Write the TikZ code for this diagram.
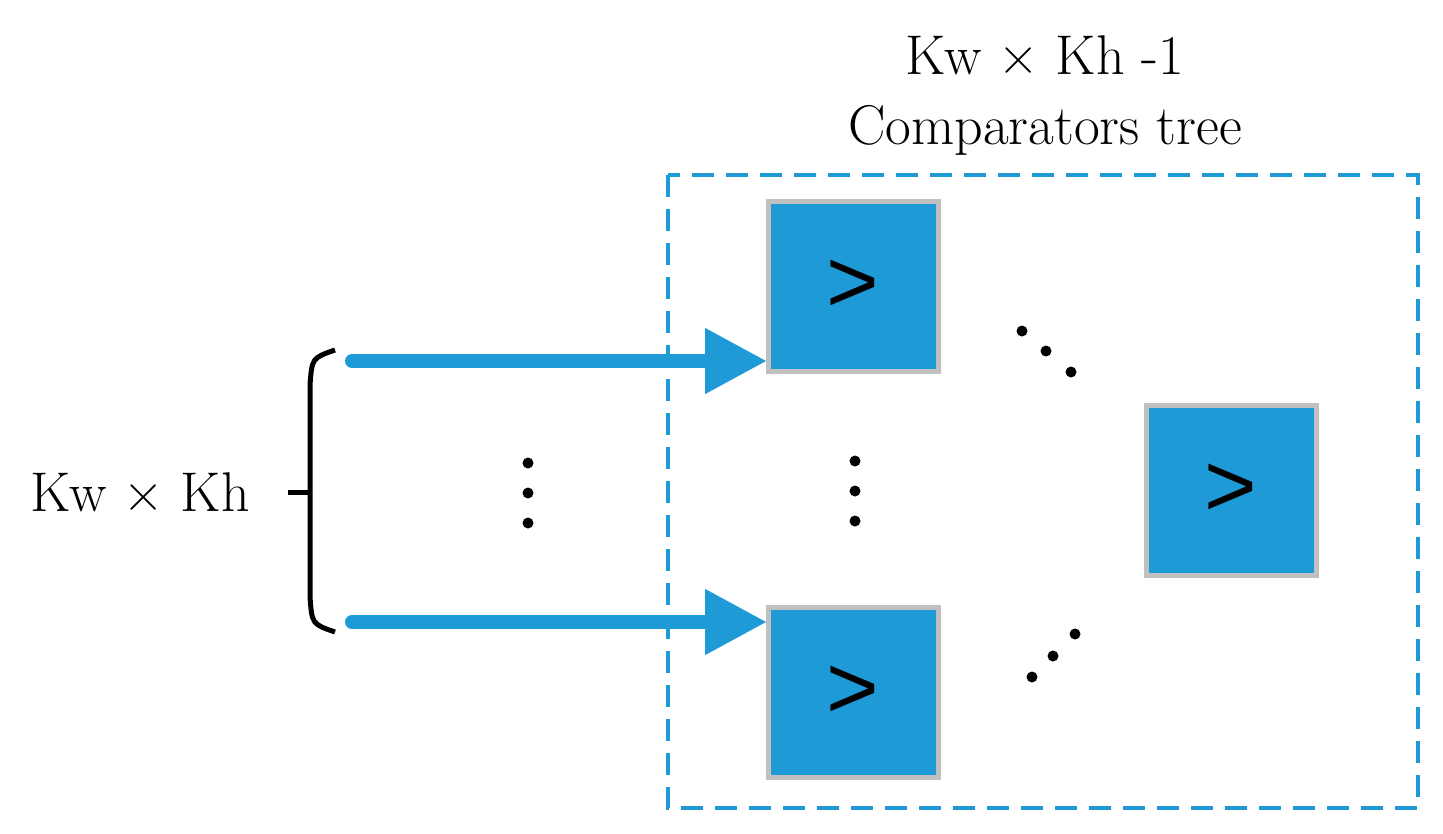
\documentclass[tikz,border=0pt]{standalone}
\usepackage{fontspec}
\newfontfamily\arialf{Liberation Sans}
\usetikzlibrary{arrows.meta}
\definecolor{cblue}{RGB}{30,155,215}
\definecolor{cgray}{RGB}{192,192,192}
\begin{document}
\begin{tikzpicture}[x=1pt,y=-1pt,
  cmp/.style={draw=cgray,line width=5pt,fill=cblue,minimum width=170pt,minimum height=170pt,inner sep=0pt,font=\arialf\fontsize{90}{90}\selectfont},
  lbl/.style={font=\fontsize{56}{62}\selectfont,inner sep=0pt},
  arr/.style={cblue,line width=14pt,line cap=round,-{Triangle[length=62pt,width=62pt]}},
  dot/.style={fill=black,circle,inner sep=0pt,minimum size=11pt}]
\useasboundingbox (0,0) rectangle (1443,833);
\draw[cblue,line width=4pt,dash pattern=on 22pt off 12pt] (668,175) rectangle (1418,808);
\node[cmp] (b1) at (853,286) {>};
\node[cmp] (b2) at (853,692) {>};
\node[cmp] (b3) at (1231,490) {>};
\coordinate (s1) at (352,361); \coordinate (t1) at (767,361);
\coordinate (s2) at (352,622); \coordinate (t2) at (767,622);
\draw[arr] (s1) -- (t1);
\draw[arr] (s2) -- (t2);
\draw[line width=5pt] (335,350) .. controls (312,358) .. (310,385) -- (310,597) .. controls (312,624) .. (335,632);
\draw[line width=5pt] (288,492) -- (310,492);
\node[lbl] (k) at (140,492) {Kw × Kh};
\node[lbl] (t) at (1045,55) {Kw × Kh -1};
\node[lbl] (c) at (1045,130) {Comparators tree};
\foreach \n/\x/\y in {a1/528/463,a2/528/493,a3/528/523,c1/855/461,c2/855/491,c3/855/521,
  d1/1022/331,d2/1046/351,d3/1071/372,e1/1032/677,e2/1053/656,e3/1075/634}
  \node[dot] (\n) at (\x,\y) {};
\end{tikzpicture}
\end{document}
